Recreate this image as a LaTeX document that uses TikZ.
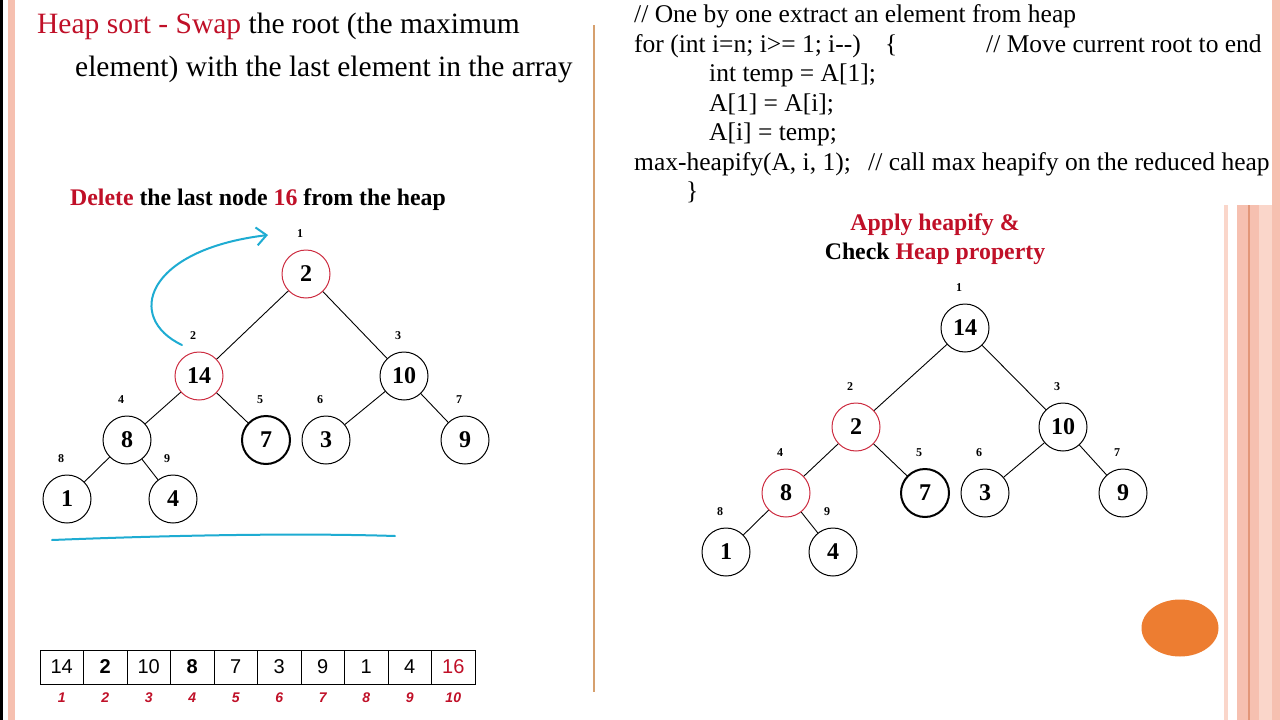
\documentclass[tikz,border=0pt]{standalone}
\usepackage{fontspec}
\setmainfont{Liberation Serif}
\setsansfont{Liberation Sans}
\usepackage{tikz}
\usetikzlibrary{positioning,arrows.meta}

\definecolor{heapred}{RGB}{192,16,40}
\definecolor{ringred}{RGB}{205,45,65}
\definecolor{penblue}{RGB}{30,172,210}
\definecolor{stripe}{RGB}{246,192,176}
\definecolor{stripelt}{RGB}{250,214,202}
\definecolor{stripedk}{RGB}{226,150,120}
\definecolor{divider}{RGB}{214,160,110}
\definecolor{blob}{RGB}{237,125,49}
\newcommand{\fsz}[1]{\fontsize{#1}{#1}\selectfont}

\begin{document}
\begin{tikzpicture}[x=1pt, y=-1pt,
  hnode/.style={circle, draw, minimum size=48pt, inner sep=0pt, line width=1pt, font=\bfseries\fsz{24}},
  rnode/.style={hnode, draw=ringred},
  thick7/.style={line width=2pt},
  idx/.style={font=\bfseries\fsz{12}},
  link/.style={line width=0.9pt},
  headtxt/.style={anchor=base west, inner sep=0pt, font=\fsz{29.5}},
  codetxt/.style={anchor=base west, inner sep=0pt, font=\fsz{25.5}},
  notetxt/.style={anchor=base, inner sep=0pt, font=\bfseries\fsz{23.8}},
  cell/.style={draw, line width=0.8pt, minimum width=43.5pt, minimum height=34pt, inner sep=0pt, font=\sffamily\fsz{20}},
  cellb/.style={cell, font=\sffamily\bfseries\fsz{20}},
  cellr/.style={cell, text=heapred},
  posnum/.style={inner sep=0pt, text=heapred, font=\sffamily\bfseries\itshape\fsz{14}}
]
  \useasboundingbox (0,0) rectangle (1280,720);
  \fill[white] (0,0) rectangle (1280,720);

  % Rahmen links und rechts
  \fill[black] (0,0) rectangle (2.5,720);
  \fill[stripe] (8,0) rectangle (15,720);
  \fill[stripe] (1272,0) rectangle (1280,720);
  \fill[stripelt] (1224,205) rectangle (1228,720);
  \fill[stripe] (1237,205) rectangle (1248,720);
  \fill[stripedk] (1247.5,205) rectangle (1249.5,720);
  \fill[stripe] (1249.5,205) rectangle (1259,720);
  \fill[stripelt] (1259,205) rectangle (1272,720);
  \draw[divider, line width=1.2pt] (594,25) -- (594,692);
  \fill[blob] (1180,628) ellipse [x radius=38.5, y radius=28.5];

  % Ueberschrift
  \node[headtxt] (head1) at (37,34) {{\color{heapred}Heap sort - Swap} the root (the maximum};
  \node[headtxt] (head2) at (75,76) {element) with the last element in the array};

  % Code
  \node[codetxt] (c1)  at (634,23)  {// One by one extract an element from heap};
  \node[codetxt] (c2)  at (634,52)  {for (int i=n; i>= 1; i-{}-)};
  \node[codetxt] (c2b) at (885,52)  {\{};
  \node[codetxt] (c2c) at (986,52)  {// Move current root to end};
  \node[codetxt] (c3)  at (709,81)  {int temp = A[1];};
  \node[codetxt] (c4)  at (709,111) {A[1] = A[i];};
  \node[codetxt] (c5)  at (709,140) {A[i] = temp;};
  \node[codetxt] (c6)  at (634,170) {max-heapify(A, i, 1);};
  \node[codetxt] (c6b) at (868,170) {// call max heapify on the reduced heap};
  \node[codetxt] (c7)  at (686,199) {\}};

  % Hinweise
  \node[notetxt] (del) at (258,205) {{\color{heapred}Delete} the last node {\color{heapred}16} from the heap};
  \node[notetxt] (app1) at (935,230) {\color{heapred}Apply heapify \&};
  \node[notetxt] (app2) at (935,259) {Check {\color{heapred}Heap property}};

  % linker Heap
  \node[rnode] (l1) at (306,274) {2};
  \node[rnode] (l2) at (199,376) {14};
  \node[hnode] (l3) at (404,376) {10};
  \node[hnode] (l4) at (127,440) {8};
  \node[hnode, thick7] (l5) at (266,440) {7};
  \node[hnode] (l6) at (326,440) {3};
  \node[hnode] (l7) at (465,440) {9};
  \node[hnode] (l8) at (67,499) {1};
  \node[hnode] (l9) at (173,499) {4};
  \draw[link] (l1) -- (l2);
  \draw[link] (l1) -- (l3);
  \draw[link] (l2) -- (l4);
  \draw[link] (l2) -- (l5);
  \draw[link] (l3) -- (l6);
  \draw[link] (l3) -- (l7);
  \draw[link] (l4) -- (l8);
  \draw[link] (l4) -- (l9);

  % rechter Heap
  \node[hnode] (r1) at (965,328) {14};
  \node[rnode] (r2) at (856,427) {2};
  \node[hnode] (r3) at (1063,427) {10};
  \node[rnode] (r4) at (786,493) {8};
  \node[hnode, thick7] (r5) at (925,493) {7};
  \node[hnode] (r6) at (985,493) {3};
  \node[hnode] (r7) at (1123,493) {9};
  \node[hnode] (r8) at (726,552) {1};
  \node[hnode] (r9) at (833,552) {4};
  \draw[link] (r1) -- (r2);
  \draw[link] (r1) -- (r3);
  \draw[link] (r2) -- (r4);
  \draw[link] (r2) -- (r5);
  \draw[link] (r3) -- (r6);
  \draw[link] (r3) -- (r7);
  \draw[link] (r4) -- (r8);
  \draw[link] (r4) -- (r9);

  % Indizes ueber den Knoten
  \foreach \t in {l,r}
    \foreach \i in {1,...,9}
      \node[idx] (\t\i i) at ([shift={(-6,-40)}]\t\i) {\i};

  % Pfeil und Strich
  \coordinate (swapfrom) at (182,345);
  \coordinate (swapto) at (268,235);
  \draw[penblue, line width=2pt, line cap=round, -{Straight Barb[length=10pt, width=18pt]}]
    (swapfrom) .. controls (125,318) and (145,250) .. (swapto);
  \coordinate (ulA) at (52,540);
  \coordinate (ulB) at (395,536);
  \draw[penblue, line width=2pt, line cap=round] (ulA) .. controls (180,535) and (300,533) .. (ulB);

  % Array
  \foreach \v/\s [count=\k] in {14/cell, 2/cellb, 10/cell, 8/cellb, 7/cell, 3/cell, 9/cell, 1/cell, 4/cell, 16/cellr} {
    \node[\s] (a\k) at (40+43.5*\k-21.75, 667) {\v};
    \node[posnum] (p\k) at (40+43.5*\k-21.75, 698) {\k};
  }
\end{tikzpicture}
\end{document}
